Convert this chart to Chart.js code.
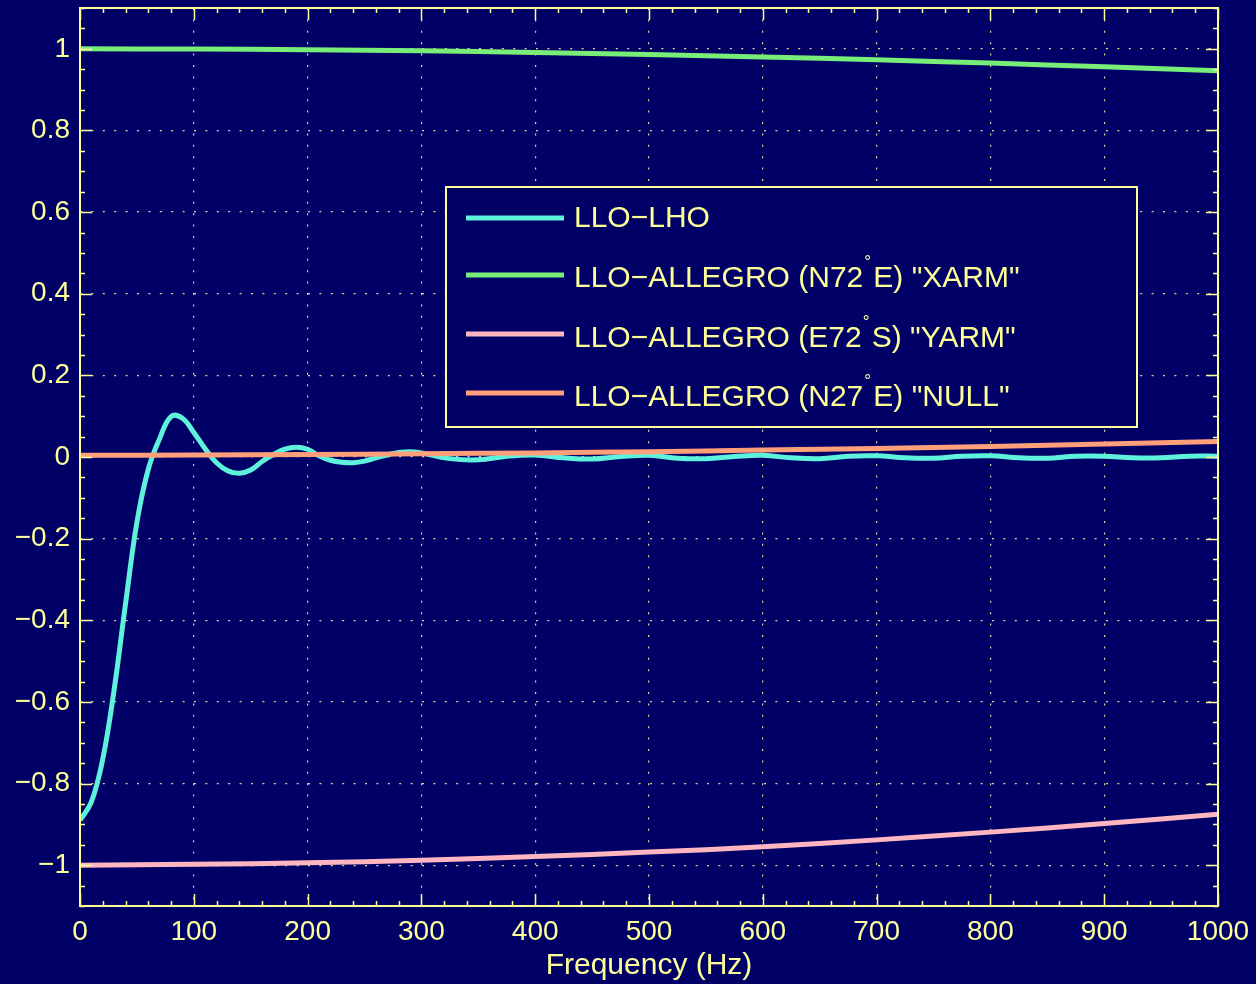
<!DOCTYPE html>
<html>
<head>
<meta charset="utf-8">
<script src="https://cdn.jsdelivr.net/npm/chart.js@4.4.1/dist/chart.umd.min.js"></script>
<style>
  html, body { margin: 0; padding: 0; background: #000066; }
  #wrap { width: 1256px; height: 984px; position: relative; }
</style>
</head>
<body>
<div id="wrap"><canvas id="orf"></canvas></div>
<script>
(function () {
  "use strict";

  /* ── Data ── */
  const freqLHO = [0, 10, 20, 30, 40, 50, 60, 70, 80, 90, 100, 110, 120, 130, 140, 150, 160, 170, 180, 190, 200, 210, 220, 230, 240, 250, 260, 270, 280, 290, 300,
                   325, 350, 375, 400, 425, 450, 475, 500, 525, 550, 575, 600, 625, 650, 675, 700, 725, 750, 775, 800, 825, 850, 875, 900, 925, 950, 975, 1000];
  const valLHO  = [-0.89, -0.845, -0.74, -0.57, -0.36, -0.16, -0.03, 0.045, 0.099, 0.095, 0.060, 0.020, -0.014, -0.034, -0.040, -0.032, -0.011, 0.006, 0.019, 0.024, 0.019, 0.003, -0.008, -0.013, -0.014, -0.010, -0.002, 0.005, 0.011, 0.013, 0.010,
                   -0.004, -0.007, 0.002, 0.005, -0.002, -0.005, 0.001, 0.004, -0.003, -0.004, 0.001, 0.004, -0.002, -0.004, 0.002, 0.003, -0.002, -0.003, 0.002, 0.003, -0.002, -0.003, 0.002, 0.002, -0.002, -0.002, 0.002, 0.002];

  const freqArm = [0, 100, 200, 300, 400, 500, 600, 700, 800, 900, 1000];
  const valXarm = [1.0, 0.9995, 0.998, 0.995, 0.991, 0.986, 0.980, 0.973, 0.965, 0.956, 0.946];
  const valYarm = [-1.0, -0.998, -0.994, -0.988, -0.979, -0.968, -0.955, -0.938, -0.919, -0.898, -0.875];
  const valNull = [0.004, 0.005, 0.006, 0.008, 0.010, 0.013, 0.017, 0.021, 0.026, 0.032, 0.038];

  const seriesNames = ['LLO\u2212LHO', 'LLO\u2212ALLEGRO (N72\u00b0E) "XARM"', 'LLO\u2212ALLEGRO (E72\u00b0S) "YARM"', 'LLO\u2212ALLEGRO (N27\u00b0E) "NULL"'];
  const seriesColors = ['#5ef2dc', '#78ee78', '#ffb6c1', '#ffa07a'];

  const xTickValues = [0, 100, 200, 300, 400, 500, 600, 700, 800, 900, 1000];
  const yTickValues = [-1, -0.8, -0.6, -0.4, -0.2, 0, 0.2, 0.4, 0.6, 0.8, 1];
  const xRange = [0, 1000], yRange = [-1.1, 1.1];
  const xMinorStep = 20, yMinorStep = 0.05;

  /* ── Helpers ── */
  const FG = '#ffff99';
  const BG = '#000066';
  const FONT = '"Liberation Sans", Arial, sans-serif';
  function pts(xs, ys) { return xs.map((x, i) => ({ x: x, y: ys[i] })); }
  function fmtY(v) {
    const r = Math.round(v * 10) / 10;
    if (r === 0) return '0';
    const s = Math.abs(r).toString();
    return r < 0 ? '\u2212' + s : s;
  }

  /* ── Frame, inward ticks & legend ── */
  const framePlugin = {
    id: 'frame',
    afterDraw(chart) {
      const ctx = chart.ctx;
      const a = chart.chartArea;
      const xs = chart.scales.x, ys = chart.scales.y;
      ctx.save();
      ctx.strokeStyle = FG;
      ctx.lineWidth = 2;
      ctx.strokeRect(a.left, a.top, a.right - a.left, a.bottom - a.top);

      ctx.lineWidth = 1.5;
      ctx.beginPath();
      for (let i = 0; i <= 50; i++) {
        const px = Math.round(xs.getPixelForValue(i * xMinorStep)) + 0.5;
        const len = (i % 5 === 0) ? 12 : 5;
        ctx.moveTo(px, a.bottom); ctx.lineTo(px, a.bottom - len);
        ctx.moveTo(px, a.top); ctx.lineTo(px, a.top + len);
      }
      for (let i = -22; i <= 22; i++) {
        const py = Math.round(ys.getPixelForValue(i * yMinorStep)) + 0.5;
        const len = (i % 4 === 0) ? 12 : 5;
        ctx.moveTo(a.left, py); ctx.lineTo(a.left + len, py);
        ctx.moveTo(a.right, py); ctx.lineTo(a.right - len, py);
      }
      ctx.stroke();

      // legend box
      const box = { l: 446, t: 187, r: 1137, b: 427 };
      ctx.fillStyle = BG;
      ctx.fillRect(box.l, box.t, box.r - box.l, box.b - box.t);
      ctx.lineWidth = 2;
      ctx.strokeStyle = FG;
      ctx.strokeRect(box.l, box.t, box.r - box.l, box.b - box.t);
      const rowsLine = [218, 275, 334, 393];
      const rowsText = [219, 279, 339, 398];
      seriesNames.forEach((name, i) => {
        ctx.strokeStyle = seriesColors[i];
        ctx.lineWidth = 5;
        ctx.beginPath();
        ctx.moveTo(466, rowsLine[i]); ctx.lineTo(564, rowsLine[i]);
        ctx.stroke();
        ctx.fillStyle = FG;
        ctx.textBaseline = 'middle';
        ctx.textAlign = 'left';
        const parts = name.split('\u00b0');
        let x = 574;
        ctx.font = '30px ' + FONT;
        ctx.fillText(parts[0], x, rowsText[i]);
        x += ctx.measureText(parts[0]).width;
        if (parts.length > 1) {
          ctx.font = '17px ' + FONT;
          ctx.fillText('\u00b0', x + 1, rowsText[i] - 17);
          x += 10;
          ctx.font = '30px ' + FONT;
          ctx.fillText(parts[1], x, rowsText[i]);
        }
      });
      ctx.restore();
    }
  };

  const lineDefaults = { borderWidth: 5, pointRadius: 0, fill: false, tension: 0.4 };

  new Chart(document.getElementById('orf'), {
    type: 'line',
    data: {
      datasets: [
        Object.assign({ label: seriesNames[0], data: pts(freqLHO, valLHO), borderColor: seriesColors[0], order: 3 }, lineDefaults),
        Object.assign({ label: seriesNames[1], data: pts(freqArm, valXarm), borderColor: seriesColors[1], order: 2 }, lineDefaults),
        Object.assign({ label: seriesNames[2], data: pts(freqArm, valYarm), borderColor: seriesColors[2], order: 1 }, lineDefaults),
        Object.assign({ label: seriesNames[3], data: pts(freqArm, valNull), borderColor: seriesColors[3], order: 0 }, lineDefaults)
      ]
    },
    options: {
      responsive: true, maintainAspectRatio: false, animation: false,
      layout: { padding: { top: 8, right: 38, left: 0, bottom: 0 } },
      plugins: { legend: { display: false }, tooltip: { enabled: false } },
      scales: {
        x: {
          type: 'linear', min: xRange[0], max: xRange[1],
          afterBuildTicks: s => { s.ticks = xTickValues.map(v => ({ value: v })); },
          afterFit: s => { s.height = 78; s.paddingLeft = 0; s.paddingRight = 0; },
          grid: { color: 'rgba(255,255,153,0.85)', lineWidth: 1.2, drawTicks: false },
          border: { display: false, dash: [2, 9.4] },
          ticks: { color: FG, padding: 9, maxRotation: 0, autoSkip: false,
                   callback: v => String(v),
                   font: { size: 28, family: FONT } },
          title: { display: true, text: 'Frequency (Hz)', color: FG, padding: { top: 0, bottom: 0 },
                   font: { size: 30, family: FONT } }
        },
        y: {
          type: 'linear', min: yRange[0], max: yRange[1],
          afterBuildTicks: s => { s.ticks = yTickValues.map(v => ({ value: v })); },
          afterFit: s => { s.width = 80; s.paddingTop = 0; s.paddingBottom = 0; },
          grid: { color: 'rgba(255,255,153,0.85)', lineWidth: 1.2, drawTicks: false },
          border: { display: false, dash: [2, 9.4] },
          ticks: { color: FG, padding: 10, autoSkip: false,
                   callback: v => fmtY(v),
                   font: { size: 28, family: FONT } }
        }
      }
    },
    plugins: [framePlugin]
  });
})();
</script>
</body>
</html>
